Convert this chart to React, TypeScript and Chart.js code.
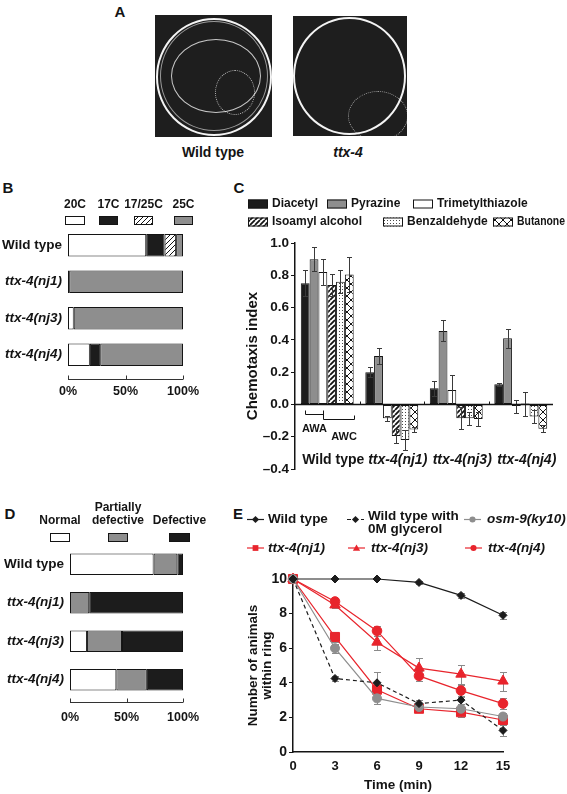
import React, { useEffect, useRef } from 'react';
import { Chart, registerables } from 'chart.js';
Chart.register(...registerables);

const FONT = '"Liberation Sans", Arial, Helvetica, sans-serif';
Chart.defaults.font.family = FONT;
const INK = '#141414';
const GREY = '#8e8e8e';
const BLACK = '#1c1c1c';
const RED = '#e8242c';

// ---------- Panel B : thermotaxis ----------
const strains = ['Wild type', 'ttx-4(nj1)', 'ttx-4(nj3)', 'ttx-4(nj4)'];
const tempLabels = ['20C', '17C', '17/25C', '25C'];
const b20C = [68, 1, 5, 19];
const b17C = [16, 0, 0, 9];
const b1725C = [10, 0, 0, 0];
const b25C = [6, 99, 95, 72];
const pctTicks = [0, 50, 100];

// ---------- Panel C : chemotaxis ----------
const odors = ['Diacetyl', 'Pyrazine', 'Trimetylthiazole', 'Isoamyl alcohol', 'Benzaldehyde', 'Butanone'];
const cDiacetyl = [0.75, 0.2, 0.1, 0.125];
const cPyrazine = [0.9, 0.3, 0.455, 0.41];
const cTrimetylthiazole = [0.82, -0.085, 0.09, -0.01];
const cIsoamyl = [0.74, -0.195, -0.085, 0.005];
const cBenzaldehyde = [0.76, -0.22, -0.085, -0.075];
const cButanone = [0.805, -0.155, -0.09, -0.15];
const errDiacetyl = [0.08, 0.03, 0.045, 0.01];
const errPyrazine = [0.075, 0.05, 0.065, 0.06];
const errTrimetylthiazole = [0.08, 0.015, 0.09, 0.04];
const errIsoamyl = [0.07, 0.045, 0.07, 0.075];
const errBenzaldehyde = [0.07, 0.06, 0.04, 0.04];
const errButanone = [0.11, 0.015, 0.045, 0.02];
const cTicks = [-0.4, -0.2, 0, 0.2, 0.4, 0.6, 0.8, 1.0];
const cVals = [cDiacetyl, cPyrazine, cTrimetylthiazole, cIsoamyl, cBenzaldehyde, cButanone];
const cErrs = [errDiacetyl, errPyrazine, errTrimetylthiazole, errIsoamyl, errBenzaldehyde, errButanone];

// ---------- Panel D : mobility ----------
const mobilityLabels = ['Normal', 'Partially defective', 'Defective'];
const dNormal = [74, 0, 15, 41];
const dPartial = [21, 17, 31, 27];
const dDefective = [5, 83, 54, 32];

// ---------- Panel E : animals within ring ----------
const eTimes = [0, 3, 6, 9, 12, 15];
const eNames = ['Wild type', 'Wild type with 0M glycerol', 'osm-9(ky10)', 'ttx-4(nj1)', 'ttx-4(nj3)', 'ttx-4(nj4)'];
const wtRing = [10, 10, 10, 9.8, 9.05, 7.9];
const wt0MRing = [10, 4.25, 4.0, 2.8, 3.0, 1.25];
const osm9Ring = [10, 6.0, 3.1, 2.6, 2.5, 2.05];
const nj1Ring = [10, 6.65, 3.6, 2.5, 2.3, 1.85];
const nj3Ring = [10, 8.5, 6.35, 4.85, 4.5, 4.1];
const nj4Ring = [10, 8.7, 7.0, 4.4, 3.55, 2.8];
const wtRingErr = [0, 0, 0, 0.1, 0.15, 0.2];
const wt0MRingErr = [0, 0.15, 0.6, 0.2, 0.2, 0.35];
const osm9RingErr = [0, 0.25, 0.3, 0.2, 0.3, 0.2];
const nj1RingErr = [0, 0.3, 0.3, 0.2, 0.25, 0.3];
const nj3RingErr = [0, 0.2, 0.45, 0.6, 0.55, 0.55];
const nj4RingErr = [0, 0.2, 0.3, 0.3, 0.3, 0.3];
const timeTicks = [0, 3, 6, 9, 12, 15];
const ringTicks = [0, 2, 4, 6, 8, 10];
const eVals = [wtRing, wt0MRing, osm9Ring, nj1Ring, nj3Ring, nj4Ring];
const eErrs = [wtRingErr, wt0MRingErr, osm9RingErr, nj1RingErr, nj3RingErr, nj4RingErr];

function pattern(kind: string): any {
  const c = document.createElement('canvas');
  const n = kind === 'cross' ? 8 : kind === 'dots' ? 3 : 5;
  c.width = n;
  c.height = n;
  const g = c.getContext('2d')!;
  g.fillStyle = '#fff';
  g.fillRect(0, 0, n, n);
  g.strokeStyle = INK;
  if (kind === 'hatchFine' || kind === 'hatchBold') {
    g.lineWidth = kind === 'hatchBold' ? 1.8 : 1;
    g.beginPath();
    for (const o of [-n, 0, n]) {
      g.moveTo(o, n);
      g.lineTo(o + n, 0);
    }
    g.stroke();
  } else if (kind === 'dots') {
    g.fillStyle = '#4a4a4a';
    g.fillRect(1, 1, 1, 1);
  } else {
    g.lineWidth = 1;
    g.beginPath();
    g.moveTo(0, 0);
    g.lineTo(n, n);
    g.moveTo(0, n);
    g.lineTo(n, 0);
    g.stroke();
  }
  return g.createPattern(c, 'repeat');
}

const catFont = (size: number) => (ctx: any) => ({
  family: FONT,
  weight: 'bold',
  size,
  style: ctx.index === 0 ? 'normal' : 'italic',
});

function stackedConfig(series: number[][], names: string[], fills: any[], opts: any) {
  return {
    type: 'bar',
    data: {
      labels: strains,
      datasets: series.map((d, i) => ({
        label: names[i],
        data: d,
        backgroundColor: fills[i],
        borderColor: INK,
        borderWidth: 1,
        borderSkipped: false,
        barPercentage: opts.barPct,
        categoryPercentage: 1,
      })),
    },
    options: {
      indexAxis: 'y',
      animation: false,
      responsive: false,
      devicePixelRatio: 1,
      layout: { padding: { top: opts.padTop, right: opts.padRight, left: 0, bottom: 0 } },
      plugins: { legend: { display: false }, tooltip: { enabled: false } },
      scales: {
        x: {
          stacked: true,
          min: 0,
          max: 100,
          afterBuildTicks: (s: any) => { s.ticks = pctTicks.map((v) => ({ value: v })); },
          afterFit: (s: any) => { s.height = opts.xHeight; },
          grid: { display: false, drawTicks: false, tickLength: 0 },
          border: { display: false },
          ticks: {
            padding: 11,
            color: INK,
            autoSkip: false,
            maxRotation: 0,
            font: { family: FONT, weight: 'bold', size: 12.5 },
            callback: (v: any) => v + '%',
          },
        },
        y: {
          stacked: true,
          afterFit: (s: any) => { s.width = opts.yWidth; },
          grid: { display: false, drawTicks: false, tickLength: 0 },
          border: { display: false },
          ticks: { padding: 6, color: INK, font: catFont(13.5) },
        },
      },
    },
    plugins: [
      {
        id: 'pctAxis',
        afterDraw(chart: any) {
          const { ctx, chartArea } = chart;
          const xs = chart.scales.x;
          const y = Math.round(chartArea.bottom + opts.axisGap) + 0.5;
          ctx.save();
          ctx.strokeStyle = '#333';
          ctx.lineWidth = 1;
          ctx.beginPath();
          ctx.moveTo(xs.getPixelForValue(0), y);
          ctx.lineTo(xs.getPixelForValue(100), y);
          pctTicks.forEach((v) => {
            const x = Math.round(xs.getPixelForValue(v)) + 0.5;
            ctx.moveTo(x, y);
            ctx.lineTo(x, y - 4);
          });
          ctx.stroke();
          ctx.restore();
        },
      },
      {
        id: 'legendTop',
        afterDraw(chart: any) {
          const { ctx } = chart;
          ctx.save();
          ctx.font = `bold 12px ${FONT}`;
          ctx.textAlign = 'center';
          ctx.textBaseline = 'middle';
          opts.legend.forEach((it: any, i: number) => {
            const cx = it.x + it.w / 2;
            ctx.fillStyle = INK;
            it.lines.forEach((ln: string, k: number) => ctx.fillText(ln, cx, it.ly[k]));
            ctx.fillStyle = chart.data.datasets[i].backgroundColor;
            ctx.fillRect(it.x, opts.boxY, it.w, 9);
            ctx.strokeStyle = INK;
            ctx.lineWidth = 1;
            ctx.strokeRect(it.x + 0.5, opts.boxY + 0.5, it.w - 1, 8);
          });
          ctx.restore();
        },
      },
    ],
  };
}

function configB() {
  return stackedConfig(
    [b20C, b17C, b1725C, b25C],
    tempLabels,
    ['#ffffff', BLACK, pattern('hatchFine'), GREY],
    {
      barPct: 0.62, padTop: 32, padRight: 17, xHeight: 32, yWidth: 68, axisGap: 6, boxY: 21,
      legend: [
        { x: 65, w: 20, lines: [tempLabels[0]], ly: [10] },
        { x: 99, w: 19, lines: [tempLabels[1]], ly: [10] },
        { x: 134, w: 19, lines: [tempLabels[2]], ly: [10] },
        { x: 174, w: 19, lines: [tempLabels[3]], ly: [10] },
      ],
    }
  );
}

function configD() {
  return stackedConfig(
    [dNormal, dPartial, dDefective],
    mobilityLabels,
    ['#ffffff', GREY, BLACK],
    {
      barPct: 0.56, padTop: 45, padRight: 13, xHeight: 31, yWidth: 70, axisGap: 3, boxY: 33,
      legend: [
        { x: 50, w: 20, lines: ['Normal'], ly: [21] },
        { x: 108, w: 20, lines: ['Partially', 'defective'], ly: [7.5, 21] },
        { x: 169, w: 21, lines: ['Defective'], ly: [21] },
      ],
    }
  );
}

function configC() {
  const fills = [BLACK, GREY, '#ffffff', pattern('hatchBold'), pattern('dots'), pattern('cross')];
  const legendPos = [
    { x: 33, y: 24, w: 60 }, { x: 112, y: 24, w: 60 }, { x: 198, y: 24, w: 100 },
    { x: 33, y: 42, w: 110 }, { x: 168, y: 42, w: 86 }, { x: 278, y: 42, w: 48 },
  ];
  return {
    type: 'bar',
    data: {
      labels: strains,
      datasets: odors.map((o, i) => ({
        label: o,
        data: cVals[i],
        backgroundColor: fills[i],
        borderColor: INK,
        borderWidth: 1,
        borderSkipped: false,
        categoryPercentage: 0.82,
        barPercentage: 1,
      })),
    },
    options: {
      animation: false,
      responsive: false,
      devicePixelRatio: 1,
      layout: { padding: { top: 63, right: 14, left: 0, bottom: 11 } },
      plugins: { legend: { display: false }, tooltip: { enabled: false } },
      scales: {
        x: { display: false },
        y: {
          min: -0.4,
          max: 1.0,
          afterBuildTicks: (s: any) => { s.ticks = cTicks.map((v) => ({ value: v })); },
          afterFit: (s: any) => { s.width = 80; },
          grid: { display: true, drawOnChartArea: false, drawTicks: true, tickLength: 4, color: INK },
          border: { display: true, color: INK, width: 1.5 },
          ticks: {
            padding: 2,
            color: INK,
            font: { family: FONT, weight: 'bold', size: 13.5 },
            callback: (v: any) => {
              const n = Math.round(v * 10) / 10;
              return (n < 0 ? '–' : '') + Math.abs(n).toFixed(1);
            },
          },
          title: {
            display: true,
            text: 'Chemotaxis index',
            color: INK,
            font: { family: FONT, weight: 'bold', size: 15 },
            padding: { top: 29, bottom: 0 },
          },
        },
      },
    },
    plugins: [
      {
        id: 'errC',
        afterDatasetsDraw(chart: any) {
          const { ctx } = chart;
          const ys = chart.scales.y;
          ctx.save();
          ctx.strokeStyle = '#3a3a3a';
          ctx.lineWidth = 1;
          cErrs.forEach((errs, di) => {
            chart.getDatasetMeta(di).data.forEach((bar: any, i: number) => {
              const v = cVals[di][i];
              const e = errs[i];
              const x = Math.round(bar.x) + 0.5;
              const yt = Math.round(ys.getPixelForValue(v + e)) + 0.5;
              const yb = Math.round(ys.getPixelForValue(v - e)) + 0.5;
              ctx.beginPath();
              ctx.moveTo(x, yt); ctx.lineTo(x, yb);
              ctx.moveTo(x - 2.5, yt); ctx.lineTo(x + 2.5, yt);
              ctx.moveTo(x - 2.5, yb); ctx.lineTo(x + 2.5, yb);
              ctx.stroke();
            });
          });
          ctx.restore();
        },
        afterDraw(chart: any) {
          const { ctx, chartArea } = chart;
          const ys = chart.scales.y;
          const xs = chart.scales.x;
          const y0 = Math.round(ys.getPixelForValue(0)) + 0.5;
          ctx.save();
          ctx.strokeStyle = INK;
          ctx.lineWidth = 1.5;
          ctx.beginPath();
          ctx.moveTo(chartArea.left, y0);
          ctx.lineTo(chartArea.right, y0);
          ctx.stroke();
          ctx.lineWidth = 1;
          ctx.beginPath();
          for (let i = 1; i < strains.length; i++) {
            const x = Math.round((xs.getPixelForValue(i - 1) + xs.getPixelForValue(i)) / 2) + 0.5;
            ctx.moveTo(x, y0);
            ctx.lineTo(x, y0 - 3);
          }
          ctx.stroke();
          // AWA / AWC brackets under wild type
          const b0 = chart.getDatasetMeta(0).data[0];
          const b2 = chart.getDatasetMeta(2).data[0];
          const b5 = chart.getDatasetMeta(5).data[0];
          const x1 = Math.round(b0.x) + 0.5;
          const x2 = Math.round(b2.x) + 0.5;
          const x3 = Math.round(b5.x + b5.width / 2) + 0.5;
          const yA = y0 + 10;
          const yC = y0 + 15;
          ctx.beginPath();
          ctx.moveTo(x1, y0 + 6); ctx.lineTo(x1, yA); ctx.lineTo(x2, yA);
          ctx.moveTo(x2, y0 + 6); ctx.lineTo(x2, yC); ctx.lineTo(x3, yC); ctx.lineTo(x3, yC - 4);
          ctx.stroke();
          ctx.fillStyle = INK;
          ctx.textAlign = 'center';
          ctx.textBaseline = 'middle';
          ctx.font = `bold 11px ${FONT}`;
          ctx.fillText('AWA', (x1 + x2) / 2, yA + 14);
          ctx.fillText('AWC', (x2 + x3) / 2 + 5, yC + 17);
          // group labels
          const yl = ys.getPixelForValue(-0.345);
          strains.forEach((s, i) => {
            ctx.font = `${i === 0 ? '' : 'italic '}bold 14px ${FONT}`;
            ctx.fillText(s, xs.getPixelForValue(i) + 6, yl);
          });
          // legend
          ctx.font = `bold 12px ${FONT}`;
          ctx.textAlign = 'left';
          chart.data.datasets.forEach((ds: any, i: number) => {
            const p = legendPos[i];
            ctx.fillStyle = ds.backgroundColor;
            ctx.fillRect(p.x, p.y - 4.5, 20, 9);
            ctx.strokeStyle = INK;
            ctx.strokeRect(p.x + 0.5, p.y - 4, 19, 8);
            ctx.fillStyle = INK;
            ctx.fillText(ds.label, p.x + 24, p.y, p.w);
          });
          ctx.restore();
        },
      },
    ],
  };
}

function drawMarker(ctx: any, style: string, x: number, y: number, r: number, color: string) {
  ctx.fillStyle = color;
  ctx.beginPath();
  if (style === 'rectRot') {
    ctx.moveTo(x, y - r); ctx.lineTo(x + r, y); ctx.lineTo(x, y + r); ctx.lineTo(x - r, y);
    ctx.closePath();
  } else if (style === 'rect') {
    ctx.rect(x - r * 0.8, y - r * 0.8, r * 1.6, r * 1.6);
  } else if (style === 'triangle') {
    ctx.moveTo(x, y - r); ctx.lineTo(x + r, y + r * 0.75); ctx.lineTo(x - r, y + r * 0.75);
    ctx.closePath();
  } else {
    ctx.arc(x, y, r * 0.85, 0, Math.PI * 2);
  }
  ctx.fill();
}

function configE() {
  const styles = [
    { color: BLACK, dash: [], point: 'rectRot', r: 4 },
    { color: BLACK, dash: [4, 3], point: 'rectRot', r: 4 },
    { color: GREY, dash: [], point: 'circle', r: 4.5 },
    { color: RED, dash: [], point: 'rect', r: 6.4 },
    { color: RED, dash: [], point: 'triangle', r: 6 },
    { color: RED, dash: [], point: 'circle', r: 4.8 },
  ];
  const legendPos = [
    { sx: 32, tx: 53, y: 14.5 },
    { sx: 132, tx: 153, y: 14.5 },
    { sx: 249, tx: 272, y: 14.5 },
    { sx: 32, tx: 53, y: 43 },
    { sx: 133, tx: 156, y: 43 },
    { sx: 250, tx: 273, y: 43 },
  ];
  return {
    type: 'line',
    data: {
      datasets: eNames.map((n, i) => ({
        label: n,
        data: eTimes.map((t, k) => ({ x: t, y: eVals[i][k] })),
        borderColor: styles[i].color,
        backgroundColor: styles[i].color,
        borderDash: styles[i].dash,
        borderWidth: 1.2,
        pointStyle: styles[i].point,
        pointRadius: styles[i].r,
        pointBorderWidth: 1,
        tension: 0,
        clip: false,
      })),
    },
    options: {
      animation: false,
      responsive: false,
      devicePixelRatio: 1,
      layout: { padding: { top: 74, right: 64, left: 0, bottom: 0 } },
      plugins: { legend: { display: false }, tooltip: { enabled: false } },
      scales: {
        x: {
          type: 'linear',
          min: 0,
          max: 15,
          afterBuildTicks: (s: any) => { s.ticks = timeTicks.map((v) => ({ value: v })); },
          afterFit: (s: any) => { s.height = 42; },
          grid: { display: false, drawTicks: false, tickLength: 0 },
          border: { display: true, color: INK, width: 1.5 },
          ticks: { padding: 7, color: INK, maxRotation: 0, font: { family: FONT, weight: 'bold', size: 13 } },
          title: {
            display: true,
            text: 'Time (min)',
            color: INK,
            font: { family: FONT, weight: 'bold', size: 13.5, lineHeight: 1.33 },
            padding: { top: 0, bottom: 0 },
          },
        },
        y: {
          min: 0,
          max: 10,
          afterBuildTicks: (s: any) => { s.ticks = ringTicks.map((v) => ({ value: v })); },
          afterFit: (s: any) => { s.width = 78; },
          grid: { display: true, drawOnChartArea: false, drawTicks: true, tickLength: 4, color: INK },
          border: { display: true, color: INK, width: 1.5 },
          ticks: { padding: 2, color: INK, font: { family: FONT, weight: 'bold', size: 14 } },
          title: {
            display: true,
            text: ['Number of animals', 'within ring'],
            color: INK,
            font: { family: FONT, weight: 'bold', size: 13.5, lineHeight: 1.1 },
            padding: { top: 30.5, bottom: 0 },
          },
        },
      },
    },
    plugins: [
      {
        id: 'errE',
        beforeDatasetsDraw(chart: any) {
          const { ctx } = chart;
          const xs = chart.scales.x;
          const ys = chart.scales.y;
          ctx.save();
          ctx.strokeStyle = '#8a8a8a';
          ctx.lineWidth = 1;
          eErrs.forEach((errs, di) => {
            errs.forEach((e, k) => {
              if (!e) return;
              const x = Math.round(xs.getPixelForValue(eTimes[k])) + 0.5;
              const yt = Math.round(ys.getPixelForValue(eVals[di][k] + e)) + 0.5;
              const yb = Math.round(ys.getPixelForValue(eVals[di][k] - e)) + 0.5;
              ctx.beginPath();
              ctx.moveTo(x, yt); ctx.lineTo(x, yb);
              ctx.moveTo(x - 3.5, yt); ctx.lineTo(x + 3.5, yt);
              ctx.moveTo(x - 3.5, yb); ctx.lineTo(x + 3.5, yb);
              ctx.stroke();
            });
          });
          ctx.restore();
        },
        afterDraw(chart: any) {
          const { ctx } = chart;
          ctx.save();
          ctx.textAlign = 'left';
          ctx.textBaseline = 'middle';
          chart.data.datasets.forEach((ds: any, i: number) => {
            const p = legendPos[i];
            ctx.strokeStyle = ds.borderColor;
            ctx.lineWidth = 1.2;
            ctx.setLineDash(ds.borderDash);
            ctx.beginPath();
            ctx.moveTo(p.sx, p.y);
            ctx.lineTo(p.sx + 17, p.y);
            ctx.stroke();
            ctx.setLineDash([]);
            drawMarker(ctx, ds.pointStyle, p.sx + 8.5, p.y, 3.6, ds.borderColor);
            ctx.fillStyle = INK;
            const italic = /^(osm|ttx)/.test(ds.label);
            ctx.font = `${italic ? 'italic ' : ''}bold 13.5px ${FONT}`;
            if (i === 1) {
              ctx.fillText('Wild type with', p.tx, p.y - 3);
              ctx.fillText('0M glycerol', p.tx, p.y + 9.5);
            } else {
              ctx.fillText(ds.label, p.tx, p.y);
            }
          });
          ctx.restore();
        },
      },
    ],
  };
}

function ChartBox(props: { left: number; top: number; width: number; height: number; make: () => any }) {
  const ref = useRef<HTMLCanvasElement>(null);
  useEffect(() => {
    const chart = new Chart(ref.current as HTMLCanvasElement, props.make());
    return () => chart.destroy();
  }, []);
  return (
    <canvas
      ref={ref}
      width={props.width}
      height={props.height}
      style={{ position: 'absolute', left: props.left, top: props.top, width: props.width, height: props.height }}
    />
  );
}

function Label(props: { x: number; y: number; text: string; size?: number; italic?: boolean }) {
  return (
    <div
      style={{
        position: 'absolute',
        left: props.x,
        top: props.y,
        transform: 'translate(-50%, -50%)',
        font: `${props.italic ? 'italic ' : ''}bold ${props.size || 15}px ${FONT}`,
        lineHeight: 1,
        whiteSpace: 'nowrap',
        color: INK,
      }}
    >
      {props.text}
    </div>
  );
}

function Ring(props: { left: number; top: number; w: number; h: number; border: string }) {
  return (
    <div
      style={{
        position: 'absolute',
        left: props.left,
        top: props.top,
        width: props.w,
        height: props.h,
        border: props.border,
        borderRadius: '50%',
        boxSizing: 'border-box',
      }}
    />
  );
}

export default function App() {
  return (
    <div style={{ position: 'absolute', left: 0, top: 0, width: 567, height: 794, background: '#fff', overflow: 'hidden' }}>
      {/* Panel A : track photos */}
      <Label x={120} y={11} text="A" />
      <div style={{ position: 'absolute', left: 155, top: 15, width: 117, height: 122, background: '#1e1e1e', overflow: 'hidden' }}>
        <Ring left={1} top={3} w={116} h={118} border="2px solid #f4f4f4" />
        <Ring left={5} top={6} w={108} h={110} border="1px solid rgba(255,255,255,0.55)" />
        <Ring left={16} top={24} w={90} h={74} border="1px solid rgba(255,255,255,0.75)" />
        <Ring left={60} top={55} w={40} h={45} border="1px dotted rgba(255,255,255,0.7)" />
      </div>
      <div style={{ position: 'absolute', left: 293, top: 16, width: 114, height: 120, background: '#1e1e1e', overflow: 'hidden' }}>
        <Ring left={0} top={1} w={113} h={118} border="2px solid #f4f4f4" />
        <Ring left={55} top={75} w={60} h={50} border="1px dotted rgba(255,255,255,0.6)" />
      </div>
      <Label x={213} y={152} text="Wild type" size={14} />
      <Label x={348} y={152} text="ttx-4" size={14} italic />

      {/* Panel B */}
      <Label x={8} y={187} text="B" />
      <ChartBox left={0} top={195} width={210} height={210} make={configB} />

      {/* Panel C */}
      <Label x={239} y={187} text="C" />
      <ChartBox left={215} top={180} width={352} height={300} make={configC} />

      {/* Panel D */}
      <Label x={10} y={513} text="D" />
      <ChartBox left={0} top={500} width={210} height={230} make={configD} />

      {/* Panel E */}
      <Label x={238} y={513} text="E" />
      <ChartBox left={215} top={505} width={352} height={289} make={configE} />
    </div>
  );
}
